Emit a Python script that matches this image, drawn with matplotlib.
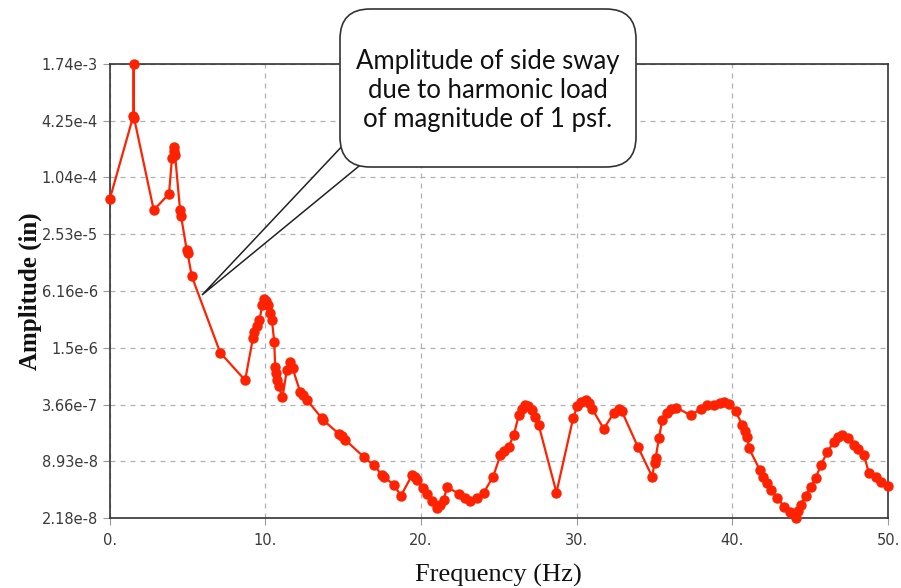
import matplotlib.pyplot as plt
import numpy as np
from matplotlib.patches import FancyBboxPatch, Polygon

# Datos
freq = [0.0, 1.52, 1.54, 1.56, 2.83, 3.81, 4.0, 4.1, 4.16, 4.2, 4.52, 4.58, 4.95, 5.0, 5.27,
        7.1, 8.7, 9.2, 9.3, 9.45, 9.62, 9.8, 9.94, 10.05, 10.15, 10.3, 10.42, 10.57, 10.63,
        10.7, 10.74, 10.85, 11.1, 11.38, 11.6, 11.75, 12.24, 12.45, 12.67, 13.63, 13.7,
        14.75, 14.9, 15.13, 16.31, 16.95, 17.49, 17.6, 18.24, 18.71, 19.42, 19.6, 19.74,
        20.1, 20.39, 20.7, 21.03, 21.2, 21.45, 21.67, 22.42, 22.8, 23.17, 23.6, 24.03,
        24.63, 25.1, 25.35, 25.63, 25.96, 26.28, 26.5, 26.71, 26.9, 27.14, 27.35, 27.56,
        28.7, 29.77, 30.03, 30.3, 30.57, 30.8, 30.99, 31.74, 32.4, 32.71, 32.9, 33.93,
        34.85, 35.0, 35.07, 35.28, 35.5, 35.8, 36.03, 36.4, 37.32, 38.0, 38.39, 38.8,
        39.2, 39.46, 39.8, 40.21, 40.64, 40.8, 40.96, 41.07, 41.77, 42.0, 42.2, 42.46,
        42.9, 43.32, 43.7, 44.07, 44.2, 44.39, 44.7, 45.04, 45.36, 45.68, 46.11, 46.53,
        46.8, 47.07, 47.4, 47.82, 48.1, 48.46, 48.78, 49.2, 49.53, 50.0]
amplitud = [6.0e-5, 4.8e-4, 1.74e-3, 4.6e-4, 4.6e-5, 6.9e-5, 1.67e-4, 2.0e-4, 2.22e-4, 1.81e-4,
            4.6e-5, 4.0e-5, 1.7e-5, 1.6e-5, 8.9e-6,
            1.33e-6, 6.7e-7, 1.9e-6, 2.2e-6, 2.6e-6, 3.0e-6, 4.3e-6, 5.1e-6, 4.8e-6, 4.3e-6,
            3.6e-6, 3.0e-6, 1.75e-6, 9.4e-7,
            8.0e-7, 6.7e-7, 5.8e-7, 4.4e-7, 8.6e-7, 1.06e-6, 9.0e-7, 5.0e-7, 4.6e-7, 4.1e-7,
            2.6e-7, 2.5e-7,
            1.75e-7, 1.68e-7, 1.52e-7, 1.0e-7, 8.1e-8, 6.4e-8, 6.1e-8, 5.0e-8, 3.8e-8, 6.3e-8,
            6.0e-8, 5.6e-8,
            4.6e-8, 4.0e-8, 3.3e-8, 2.8e-8, 3.0e-8, 3.4e-8, 4.7e-8, 4.0e-8, 3.6e-8, 3.35e-8,
            3.6e-8, 4.1e-8,
            6.1e-8, 1.04e-7, 1.15e-7, 1.28e-7, 1.72e-7, 2.8e-7, 3.3e-7, 3.6e-7, 3.5e-7, 3.2e-7,
            2.7e-7, 2.2e-7,
            4.1e-8, 2.6e-7, 3.5e-7, 3.9e-7, 4.1e-7, 3.8e-7, 3.3e-7, 2.0e-7, 3.0e-7, 3.25e-7,
            3.1e-7, 1.28e-7,
            6.1e-8, 8.5e-8, 9.6e-8, 1.58e-7, 2.5e-7, 3.0e-7, 3.3e-7, 3.4e-7, 2.8e-7, 3.3e-7,
            3.6e-7, 3.6e-7,
            3.8e-7, 3.9e-7, 3.7e-7, 3.1e-7, 2.2e-7, 1.9e-7, 1.64e-7, 1.23e-7, 7.2e-8, 6.0e-8,
            5.2e-8, 4.4e-8,
            3.6e-8, 2.9e-8, 2.5e-8, 2.18e-8, 2.6e-8, 3.0e-8, 3.8e-8, 4.75e-8, 5.9e-8, 8.1e-8,
            1.13e-7, 1.45e-7,
            1.62e-7, 1.72e-7, 1.6e-7, 1.34e-7, 1.2e-7, 1.04e-7, 6.6e-8, 6.0e-8, 5.4e-8, 4.8e-8]

yticks = [2.18e-8, 8.93e-8, 3.66e-7, 1.5e-6, 6.16e-6, 2.53e-5, 1.04e-4, 4.25e-4, 1.74e-3]
ytick_labels = ['2.18e-8', '8.93e-8', '3.66e-7', '1.5e-6', '6.16e-6', '2.53e-5', '1.04e-4',
                '4.25e-4', '1.74e-3']
xticks = [0, 10, 20, 30, 40, 50]
xtick_labels = ['0.', '10.', '20.', '30.', '40.', '50.']

W, H = 901, 588
fig = plt.figure(figsize=(W / 100, H / 100), dpi=100)
ax = fig.add_axes([109.7 / W, (H - 518) / H, (888 - 109.7) / W, (518 - 64) / H])

ax.plot(freq, amplitud, color='#ff2200', lw=1.6, marker='o', ms=6.5, mec='#ff2200',
        mfc='#ff2200', clip_on=False, zorder=3)

ax.set_yscale('log')
ax.set_xlim(0, 50)
ax.set_ylim(yticks[0], yticks[-1])
ax.set_yticks(yticks)
ax.set_yticklabels(ytick_labels)
ax.yaxis.set_minor_locator(plt.NullLocator())
ax.set_xticks(xticks)
ax.set_xticklabels(xtick_labels)
ax.grid(True, ls=(0, (4, 4)), color='#b0b0b0', lw=0.9)
ax.tick_params(axis='both', direction='out', length=5, color='#999999', labelcolor='#3a3a3a',
               labelsize=10.5)
ax.tick_params(axis='x', pad=6)
for s in ax.spines.values():
    s.set_color('#333333')
    s.set_linewidth(1.2)

ax.set_xlabel('Frequency (Hz)', family='Liberation Serif', fontsize=19, color='#111111',
              labelpad=11)
ax.set_ylabel('Amplitude (in)', family='Liberation Serif', fontsize=18, color='#111111',
              fontweight='bold', labelpad=0)


# Globo del comentario (coordenadas en pixeles de la imagen)
def px(x, y):
    return (x, H - y)


puntero = Polygon([px(346, 142), px(202, 295), px(364, 162)], closed=True,
                  transform=None, facecolor='white', edgecolor='#222222', lw=1.1, zorder=10)
fig.patches.append(puntero)
caja = FancyBboxPatch(px(352, 155), 272, 134, boxstyle='round,pad=12,rounding_size=30',
                      transform=None, facecolor='white', edgecolor='#333333', lw=1.2, zorder=11)
fig.patches.append(caja)
fig.text(488 / W, 1 - 91 / H, 'Amplitude of side sway\ndue to harmonic load\nof magnitude of 1 psf.',
         ha='center', va='center', fontsize=18.5, family='Lato', color='#111111',
         linespacing=1.2, zorder=12)

fig.savefig('out.png', dpi=100)
